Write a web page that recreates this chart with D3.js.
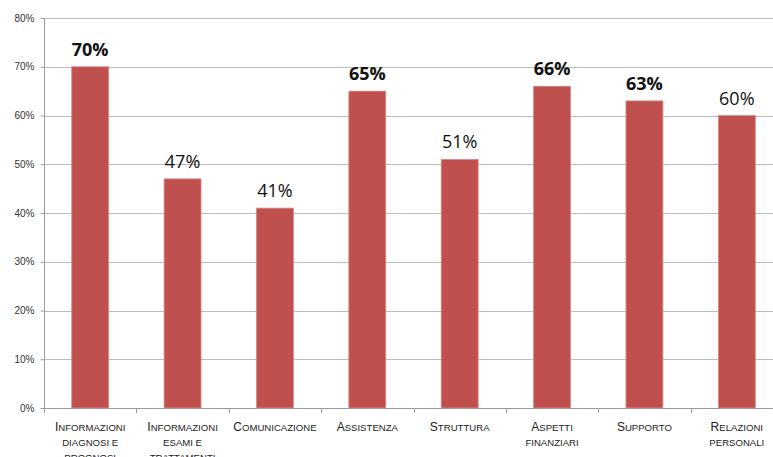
<!DOCTYPE html>
<html>
<head>
<meta charset="utf-8">
<script src="https://cdn.jsdelivr.net/npm/d3@7"></script>
<style>
  body { margin: 0; background: #fff; }
  svg { display: block; }
</style>
</head>
<body>
<svg id="viz"></svg>
<script>
// chart data
var categories = [
  ['Informazioni', 'diagnosi e', 'prognosi'],
  ['Informazioni', 'esami e', 'trattamenti'],
  ['Comunicazione'],
  ['Assistenza'],
  ['Struttura'],
  ['Aspetti', 'finanziari'],
  ['Supporto'],
  ['Relazioni', 'personali']
];
var values = [70, 47, 41, 65, 51, 66, 63, 60];
var boldLabels = [true, false, false, true, false, true, true, false];
var yTicks = [0, 10, 20, 30, 40, 50, 60, 70, 80];

var width = 773, height = 457;
var margin = { top: 18, right: -10, bottom: 49, left: 44 };

var svg = d3.select('#viz').attr('width', width).attr('height', height);

var x = d3.scaleBand()
  .domain(d3.range(values.length))
  .range([margin.left, width - margin.right])
  .paddingInner(0.6)
  .paddingOuter(0.3);

var y = d3.scaleLinear()
  .domain([0, 80])
  .range([height - margin.bottom, margin.top]);

// gridlines
svg.append('g')
  .selectAll('line')
  .data(yTicks.filter(d => d > 0))
  .join('line')
  .attr('x1', margin.left)
  .attr('x2', width)
  .attr('y1', d => Math.round(y(d)) + 0.5)
  .attr('y2', d => Math.round(y(d)) + 0.5)
  .attr('stroke', '#bcbcbc')
  .attr('stroke-width', 1.2);

// y axis
var yAxis = svg.append('g')
  .attr('transform', 'translate(' + (margin.left + 0.5) + ',0)')
  .call(d3.axisLeft(y).tickValues(yTicks).tickSize(4).tickPadding(6).tickFormat(d => d + '%'));
yAxis.selectAll('line, path').attr('stroke', '#9a9a9a');
yAxis.select('.domain').attr('d', 'M0,' + y(80) + 'V' + y(0));
yAxis.selectAll('text')
  .style('font-family', 'Liberation Sans, Arial, sans-serif')
  .style('font-size', '10px')
  .attr('fill', '#333');

// x axis line and category separators
var step = x.step();
svg.append('line')
  .attr('x1', margin.left)
  .attr('x2', width)
  .attr('y1', Math.round(y(0)) + 0.5)
  .attr('y2', Math.round(y(0)) + 0.5)
  .attr('stroke', '#9a9a9a');

svg.append('g')
  .selectAll('line')
  .data(d3.range(values.length + 1))
  .join('line')
  .attr('x1', i => Math.round(margin.left + i * step) + 0.5)
  .attr('x2', i => Math.round(margin.left + i * step) + 0.5)
  .attr('y1', Math.round(y(0)))
  .attr('y2', Math.round(y(0)) + 5)
  .attr('stroke', '#9a9a9a');

// bars
svg.append('g')
  .selectAll('rect')
  .data(values)
  .join('rect')
  .attr('x', (d, i) => x(i))
  .attr('y', d => y(d))
  .attr('width', x.bandwidth())
  .attr('height', d => y(0) - y(d))
  .attr('fill', '#c0504d')
  .attr('stroke', '#d98c89')
  .attr('stroke-width', 0.8);

// value labels
svg.append('g')
  .selectAll('text')
  .data(values)
  .join('text')
  .attr('x', (d, i) => x(i) + x.bandwidth() / 2)
  .attr('y', d => y(d) - 11)
  .attr('text-anchor', 'middle')
  .style('font-family', 'Open Sans, sans-serif')
  .style('font-size', '18px')
  .style('font-weight', (d, i) => boldLabels[i] ? 'bold' : 'normal')
  .attr('fill', '#111')
  .text(d => d + '%');

// category labels (small caps made by hand: big first letter on line one)
var catG = svg.append('g')
  .selectAll('text')
  .data(categories)
  .join('text')
  .attr('x', (d, i) => x(i) + x.bandwidth() / 2)
  .attr('y', 431)
  .attr('text-anchor', 'middle')
  .style('font-family', 'Liberation Sans, Arial, sans-serif')
  .style('font-size', '9.6px')
  .attr('fill', '#222');

var lines = catG.selectAll('tspan.line')
  .data(d => d)
  .join('tspan')
  .attr('class', 'line')
  .attr('x', function () { return d3.select(this.parentNode).attr('x'); })
  .attr('dy', (d, i) => i == 0 ? 0 : 15);

lines.each(function (d, i) {
  var t = d3.select(this);
  if (i == 0) {
    t.append('tspan').style('font-size', '12px').text(d.charAt(0).toUpperCase());
    t.append('tspan').text(d.slice(1).toUpperCase());
  } else {
    t.text(d.toUpperCase());
  }
});
</script>
</body>
</html>
